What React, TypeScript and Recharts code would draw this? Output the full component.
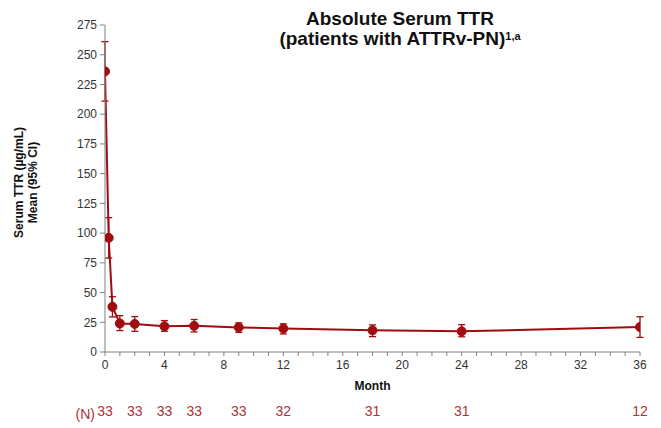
import React from 'react';
import { LineChart, Line, XAxis, YAxis, ErrorBar, Label } from 'recharts';

const months = [0, 0.25, 0.5, 1, 2, 4, 6, 9, 12, 18, 24, 36];
const meanTTR = [236, 96, 38, 24, 23.6, 21.6, 22, 20.7, 19.7, 18.2, 17.4, 21];
const ciLow = [211, 79, 29.5, 18, 17.4, 17.4, 16.9, 16.5, 15.2, 12.9, 12.8, 12.3];
const ciHigh = [261, 113, 46.5, 30.6, 29.8, 26.4, 27.3, 24.5, 23.7, 22.8, 23, 29.6];

const nMonths = [0, 2, 4, 6, 9, 12, 18, 24, 36];
const nValues = [33, 33, 33, 33, 33, 32, 31, 31, 12];

const yTicks = [0, 25, 50, 75, 100, 125, 150, 175, 200, 225, 250, 275];
const xTicks = Array.from({ length: 37 }, (_, i) => i);

const data = months.map((m, i) => ({
  month: m,
  mean: meanTTR[i],
  err: [meanTTR[i] - ciLow[i], ciHigh[i] - meanTTR[i]],
}));

const RED = '#a00d10';
const AXIS = '#808080';
const FONT = '"Liberation Sans", Arial, sans-serif';

export default function App() {
  return (
    <div style={{ position: 'absolute', left: 0, top: 0, width: 661, height: 428, background: '#fff', fontFamily: FONT }}>
      <div
        style={{
          position: 'absolute',
          left: 248,
          width: 304,
          top: 9,
          textAlign: 'center',
          fontWeight: 'bold',
          fontSize: 19,
          lineHeight: '20px',
          color: '#111',
          zIndex: 2,
        }}
      >
        <div>Absolute Serum TTR</div>
        <div>
          (patients with ATTRv-PN)<sup style={{ fontSize: 11, verticalAlign: 'top', position: 'relative', top: -3 }}>1,a</sup>
        </div>
      </div>
      <LineChart
        width={661}
        height={428}
        data={data}
        margin={{ top: 25, right: 21, bottom: 0, left: 0 }}
        style={{ fontFamily: FONT }}
      >
        <XAxis
          dataKey="month"
          type="number"
          domain={[0, 36]}
          ticks={xTicks}
          interval={0}
          tickFormatter={(v: number) => (v % 4 === 0 ? String(v) : '')}
          stroke={AXIS}
          tickSize={4}
          tickMargin={4}
          tick={{ fill: '#333', fontSize: 12 }}
          height={48}
          allowDataOverflow
        >
          <Label
            content={(props: any) => {
              const vb = props.viewBox || {};
              return (
                <text x={vb.x + vb.width / 2} y={vb.y + 38} textAnchor="middle" fontWeight="bold" fontSize={12} fill="#111">
                  Month
                </text>
              );
            }}
          />
        </XAxis>
        <XAxis
          xAxisId="n"
          dataKey="month"
          type="number"
          domain={[0, 36]}
          ticks={nMonths}
          interval={0}
          tickFormatter={(v: number) => String(nValues[nMonths.indexOf(v)])}
          axisLine={false}
          tickLine={false}
          tickMargin={0}
          tickSize={6}
          tick={{ fill: '#b0303a', fontSize: 14 }}
          height={28}
        >
          <Label
            content={(props: any) => {
              const vb = props.viewBox || {};
              return (
                <text x={vb.x - 10} y={vb.y + 19} textAnchor="end" fontSize={14} fill="#b0303a">
                  (N)
                </text>
              );
            }}
          />
        </XAxis>
        <YAxis
          type="number"
          domain={[0, 275]}
          ticks={yTicks}
          interval={0}
          stroke={AXIS}
          tickSize={5}
          tickMargin={3}
          tick={{ fill: '#333', fontSize: 12 }}
          width={105}
        >
          <Label
            content={(props: any) => {
              const vb = props.viewBox || {};
              const cy = vb.y + vb.height / 2 - 6;
              return (
                <g>
                  <text x={19} y={cy} transform={`rotate(-90, 19, ${cy})`} textAnchor="middle" dominantBaseline="central" fontWeight="bold" fontSize={12} fill="#111">
                    Serum TTR (µg/mL)
                  </text>
                  <text x={33} y={cy} transform={`rotate(-90, 33, ${cy})`} textAnchor="middle" dominantBaseline="central" fontWeight="bold" fontSize={12} fill="#111">
                    Mean (95% CI)
                  </text>
                </g>
              );
            }}
          />
        </YAxis>
        <Line
          type="linear"
          dataKey="mean"
          stroke={RED}
          strokeWidth={2}
          dot={{ r: 4.5, fill: RED, stroke: RED, strokeWidth: 1 }}
          activeDot={false}
          isAnimationActive={false}
        >
          <ErrorBar dataKey="err" direction="y" width={3.5} stroke={RED} strokeWidth={1.3} isAnimationActive={false} />
        </Line>
      </LineChart>
    </div>
  );
}
